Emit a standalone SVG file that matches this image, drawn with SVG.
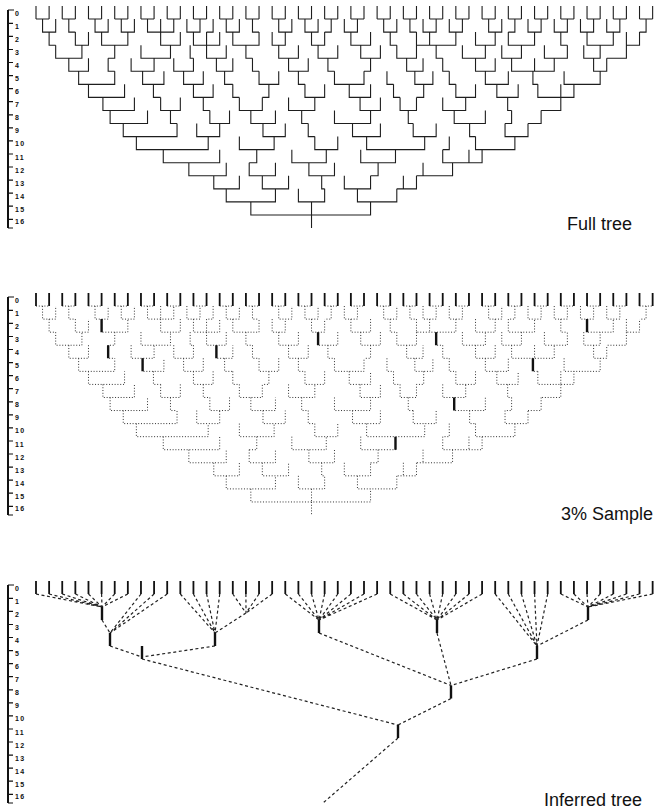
<svg xmlns="http://www.w3.org/2000/svg" width="655" height="811" viewBox="0 0 655 811">
<style>
  text { font-family: "Liberation Sans", Arial, sans-serif; fill: #111; }
  .lab { font-size: 7px; font-weight: bold; letter-spacing: 1.3px; }
  .title { font-size: 18px; }
  .axis { fill: none; stroke: #111; }
  .solid { fill: none; stroke: #1e1e1e; stroke-width: 1.1; }
  .dotted { fill: none; stroke: #333; stroke-width: 1; stroke-dasharray: 1 1.8; }
  .bold { fill: none; stroke: #111; stroke-width: 2.4; }
  .leafb { fill: none; stroke: #111; stroke-width: 1.8; }
  .dash { fill: none; stroke: #222; stroke-width: 1.2; stroke-dasharray: 3 2.6; }
  .stem { fill: none; stroke: #111; stroke-width: 1.8; }
</style>
<defs>
  <g id="axis">
    <path class="axis" stroke-width="2" d="M8 10V228"/>
    <path class="axis" stroke-width="1.2" d="M8 10H14M8 228H13M8 23.4h5M8 36.4h5M8 49.5h5M8 62.5h5M8 75.6h5M8 88.7h5M8 101.7h5M8 114.8h5M8 127.8h5M8 140.9h5M8 154h5M8 167h5M8 180.1h5M8 193.1h5M8 206.2h5M8 219.3h5"/>
    <text class="lab" x="15" y="15.8">0</text>
    <text class="lab" x="15" y="28.9">1</text>
    <text class="lab" x="15" y="41.9">2</text>
    <text class="lab" x="15" y="55">3</text>
    <text class="lab" x="15" y="68">4</text>
    <text class="lab" x="15" y="81.1">5</text>
    <text class="lab" x="15" y="94.2">6</text>
    <text class="lab" x="15" y="107.2">7</text>
    <text class="lab" x="15" y="120.3">8</text>
    <text class="lab" x="15" y="133.3">9</text>
    <text class="lab" x="15" y="146.4">10</text>
    <text class="lab" x="15" y="159.5">11</text>
    <text class="lab" x="15" y="172.5">12</text>
    <text class="lab" x="15" y="185.6">13</text>
    <text class="lab" x="15" y="198.6">14</text>
    <text class="lab" x="15" y="211.7">15</text>
    <text class="lab" x="15" y="224.3">16</text>
  </g>
  <path id="leaves" vector-effect="non-scaling-stroke" d="M0 0V1M2 0V1M4 0V1M6 0V1M8 0V1M10 0V1M12 0V1M14 0V1M16 0V1M18 0V1M20 0V1M22 0V1M24 0V1M26 0V1M28 0V1M30 0V1M32 0V1M34 0V1M36 0V1M38 0V1M40 0V1M42 0V1M44 0V1M46 0V1M48 0V1M50 0V1M52 0V1M54 0V1M56 0V1M58 0V1M60 0V1M62 0V1M64 0V1M66 0V1M68 0V1M70 0V1M72 0V1M74 0V1M76 0V1M78 0V1M80 0V1M82 0V1M84 0V1M86 0V1M88 0V1M90 0V1M92 0V1M94 0V1"/>
  <path id="tree" vector-effect="non-scaling-stroke" d="
M0 1H2M4 1H6M8 1H10M12 1H14M16 1H18M20 1H22M24 1H26M28 1H30M32 1H34M36 1H38M40 1H42M44 1H46M48 1H50M52 1H54M56 1H58M60 1H62M64 1H66M68 1H70M72 1H74M76 1H78M80 1H82M84 1H86M88 1H90M92 1H94
M1 1V2H3V1M5 1V2H6M9 1V2H11V1M13 1V2H15V1M17 1V2H21V1M19 1V2M23 1V2H25V1M27 1V2H26M29 1V2H31V1M33 1V2H34M37 1V2H39V1M41 1V2H43V1M45 1V2H44M47 1V2H49V1M53 1V2H55V1M57 1V2H58M59 1V2H61V1M63 1V2H65V1M69 1V2H71V1M73 1V2H72M75 1V2H77V1M79 1V2H81V1M83 1V2H85V1M87 1V2H89V1M93 1V2H92
M2 2V3H3M6 2V3H8V2M10 2V3H14V2M19 2V3H22V2M24 2V3H28V2M26 2V3M30 2V3H34V2M36 2V3H38V2M42 2V3H44V2M48 2V3H51V2M54 2V3H55M58 2V3H64V2M60 2V3M67 2V3H70V2M72 2V3H76V2M80 2V3H81M84 2V3H88V2M90 2V3H92V2
M3 3V4H7V3M12 3V4H11M16 3V4H20.5V3M23.5 3V4H24M26 3V4H29V3M32 3V4H33M37 3V4H40V3M43 3V4H46V3M49.5 3V4H52.5V3M55 3V4H58V3M61 3V4H62M65 3V4H68.5V3M71 3V4H74V3M77.5 3V4H81V3M83.5 3V4H86V3M90 3V4H87
M5 4V5H8V4M11 4V5H12M14.5 4V5H18V4M21 4V5H24V4M27.5 4V5H30V4M33 4V5H34M38.5 4V5H41.5V4M44.5 4V5H45.5M51 4V5H50M56.5 4V5H59V4M62 4V5H63M67 4V5H70V4M72.5 4V5H79V4M76 4V5M85 4V5H87V4
M6.5 5V6H12V5M16.25 5V6H19.5V5M22.5 5V6H25.5V5M28.75 5V6H30M34 5V6H37V5M40 5V6H41M45.5 5V6H50V5M53.5 5V6H54.5M57.75 5V6H60.5V5M63 5V6H64M68.5 5V6H72V5M75.75 5V6H76.5M80.5 5V6H86V5
M8 6V7H13.5V6M17.9 6V7H19M24 6V7H27V6M30 6V7H31M35.5 6V7H34.5M41 6V7H44V6M47.75 6V7H51V6M54.5 6V7H55.5M59.1 6V7H58M64 6V7H67V6M70.25 6V7H73.5V6M76.5 6V7H82V6M80 6V7
M10.2 7V8H15V7M19 7V8H22V7M25.5 7V8H26.5M31 7V8H34.5V7M38.5 7V8H42.5V7M49.4 7V8H52.5V7M55.5 7V8H58V7M62 7V8H65.5V7M71.9 7V8H72.5M80 7V8H77
M11.3 8V9H17V8M20.5 8V9H21.5M26.5 8V9H29.5V8M32.75 8V9H36.5V8M40.5 8V9H41.5M45.5 8V9H51V8M56.75 8V9H57.5M63.75 8V9H68.5V8M72.5 8V9H71.5M77 8V9H75
M13.3 9V10H21.5V9M24.5 9V10H28V9M34.6 9V10H38V9M41.5 9V10H42.5M48.25 9V10H52.5V9M57.5 9V10H61V9M66.1 9V10H67M71.5 9V10H75V9
M15.3 10V11H26.25V10M31 10V11H36.3V10M42.5 10V11H46V10M50.4 10V11H59.25V10M63 10V11H62M67 10V11H73V10
M19.4 11V12H28V11M33.65 11V12H32.5M39 11V12H44.25V11M49.5 11V12H54.8V11M62 11V12H68V11M66 11V12
M23.3 12V13H29V12M32.5 12V13H36.5V12M41.6 12V13H45.5V12M52.15 12V13H51M63.5 12V13H58M59 12V13
M27.1 13V14H31V13M34.5 13V14H38.5V13M43.55 13V14H44M47 13V14H51V13M58 13V14H55M56 13V14
M29 14V15H36.5V14M40 14V15H44V14M49 14V15H55V14
M32.75 15V16H51V15M42 15V16M42 16V17"/>
  <path id="sampled" vector-effect="non-scaling-stroke" d="M10 2V3M11 4V5M16.25 5V6M27.5 4V5M43 3V4M54.8 11V12M61 3V4M84 2V3M75.75 5V6M63.75 8V9"/>
</defs>

<g id="panel-full">
  <use href="#axis"/>
  <g id="full-tree">
    <use href="#leaves" class="solid" transform="translate(36,6) scale(6.56,13.06)"/>
    <use href="#tree" class="solid" transform="translate(36,6) scale(6.56,13.06)"/>
  </g>
  <text class="title" x="567" y="230">Full tree</text>
</g>

<g id="panel-sample">
  <use href="#axis" transform="translate(0,287)"/>
  <g id="sample-tree">
    <use href="#tree" class="dotted" transform="translate(36,293) scale(6.56,13.06)"/>
    <use href="#leaves" class="leafb" transform="translate(36,293) scale(6.56,13.06)"/>
    <use href="#sampled" class="bold" transform="translate(36,293) scale(6.56,13.06)"/>
  </g>
  <text class="title" x="561" y="520">3% Sample</text>
</g>

<g id="panel-inferred">
  <use href="#axis" transform="translate(0,575)"/>
  <use href="#leaves" class="stem" transform="translate(36,581) scale(6.56,13.06)"/>
  <g id="connectors">
    <path class="dash" d="M36 594L102 607M49.1 594L102 607M62.2 594L102 607M75.4 594L102 607M88.5 594L102 607M101.6 594L102 607M114.7 594L102 607M127.8 594L102 607"/>
    <path class="dash" d="M102 620L110 633M141 594L110 633M154.1 594L110 633M167.2 594L110 633"/>
    <path class="dash" d="M110 646L142 657M215 646L142 657M142 659L398 725"/>
    <path class="dash" d="M180.3 594L215 633M193.4 594L215 633M206.6 594L215 633M219.7 594L215 633M232.8 594L246 613M245.9 594L246 613M259 594L246 613M272.2 594L246 613M246 613L215 633"/>
    <path class="dash" d="M285.3 594L319 620M298.4 594L319 620M311.5 594L319 620M324.6 594L319 620M337.8 594L319 620M350.9 594L319 620M364 594L319 620M377.1 594L319 620M319 633L451 685.5"/>
    <path class="dash" d="M390.2 594L437 620M403.4 594L437 620M416.5 594L437 620M429.6 594L437 620M442.7 594L437 620M455.8 594L437 620M469 594L437 620M482.1 594L437 620M437 633L451 685.5"/>
    <path class="dash" d="M495.2 594L537 646M508.3 594L537 646M521.4 594L537 646M534.6 594L537 646M547.7 594L537 646M588 620L537 646M537 659L451 685.5"/>
    <path class="dash" d="M560.8 594L588 607M573.9 594L588 607M587 594L588 607M600.2 594L588 607M613.3 594L588 607M626.4 594L588 607M639.5 594L588 607M652.6 594L588 607"/>
    <path class="dash" d="M451 698.5L398 725M398 738L323 803"/>
  </g>
  <g id="n1"><path class="bold" d="M102 607V620"/></g>
  <g id="n2"><path class="bold" d="M110 633V646"/></g>
  <g id="n3"><path class="bold" d="M142 646V659"/></g>
  <g id="n4"><path class="bold" d="M215 633V646"/></g>
  <g id="n5"><path class="bold" d="M319 620V633"/></g>
  <g id="n6"><path class="bold" d="M398 725V738"/></g>
  <g id="n7"><path class="bold" d="M437 620V633"/></g>
  <g id="n8"><path class="bold" d="M588 607V620"/></g>
  <g id="n9"><path class="bold" d="M537 646V659"/></g>
  <g id="n10"><path class="bold" d="M451 685.5V698.5"/></g>
  <text class="title" x="544" y="806">Inferred tree</text>
</g>
</svg>
